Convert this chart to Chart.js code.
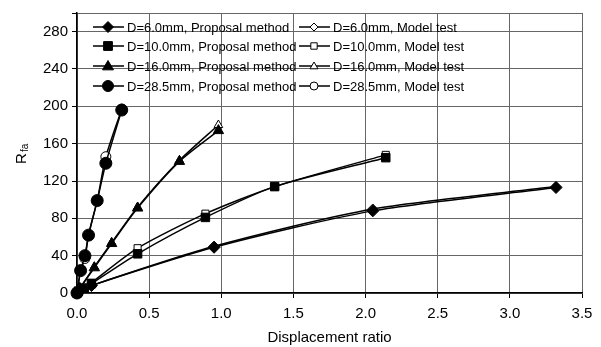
<!DOCTYPE html>
<html>
<head>
<meta charset="utf-8">
<script src="https://cdn.jsdelivr.net/npm/chart.js@4"></script>
<style>
  html, body { margin: 0; padding: 0; background: #fff; }
  #wrap { width: 601px; height: 347px; }
</style>
</head>
<body>
<div id="wrap"><canvas id="chart"></canvas></div>
<script>
"use strict";

// displacement ratio / R fa
const x6 = [0, 0.02, 0.1, 0.95, 2.05, 3.32];
const prop6 = [0, 2, 8, 49, 88, 113];
const test6 = [0, 2, 8, 50, 90, 114];

const x10 = [0, 0.01, 0.05, 0.1, 0.42, 0.89, 1.37, 2.14];
const prop10 = [0, 2, 5, 10, 42, 81, 114, 145];
const test10 = [0, 2, 6, 11, 48, 85, 114, 148];

const x16 = [0, 0.02, 0.12, 0.24, 0.42, 0.71, 0.98];
const prop16 = [0, 5, 27, 53, 91, 141, 174];
const test16 = [0, 5, 28, 54, 92, 142, 180];

const x28 = [0, 0.025, 0.055, 0.08, 0.14, 0.2, 0.31];
const prop28 = [0, 24, 40, 62, 99, 139, 196];
const test28 = [0, 24, 37, 62, 99, 146, 197];

const labels = [
    "D=6.0mm, Proposal method", "D=6.0mm, Model test",
    "D=10.0mm, Proposal method", "D=10.0mm, Model test",
    "D=16.0mm, Proposal method", "D=16.0mm, Model test",
    "D=28.5mm, Proposal method", "D=28.5mm, Model test"
];
const markers = ["rectRot", "rectRot", "rect", "rect", "triangle", "triangle", "circle", "circle"];
const markerSize = [6, 5, 6, 5, 6, 5, 6, 5];

const xsList = [x6, x6, x10, x10, x16, x16, x28, x28];
const ysList = [prop6, test6, prop10, test10, prop16, test16, prop28, test28];

const datasets = ysList.map((ys, i) => {
    const isTest = i % 2 === 1;
    return {
        label: labels[i],
        data: ys.map((y, k) => ({ x: xsList[i][k], y: y })),
        borderColor: "#000",
        borderWidth: 1.5,
        backgroundColor: isTest ? "#fff" : "#000",
        pointStyle: markers[i],
        pointRadius: markerSize[i],
        pointBorderColor: "#000",
        pointBorderWidth: 1,
        pointBackgroundColor: isTest ? "#fff" : "#000",
        tension: 0.25,
        showLine: true,
        clip: 8,
        order: isTest ? 1 : 0
    };
});

const FONT = "'Liberation Sans', Arial, sans-serif";

// legend drawn inside the plot, two columns
const innerLegend = {
    id: "innerLegend",
    afterDraw(chart) {
        const ctx = chart.ctx;
        const colX = [93, 299];
        const rowY = [27, 46, 66, 86];
        ctx.save();
        ctx.font = "13px " + FONT;
        ctx.textBaseline = "middle";
        labels.forEach((txt, i) => {
            const x = colX[i % 2];
            const y = rowY[Math.floor(i / 2)];
            ctx.strokeStyle = "#000";
            ctx.lineWidth = 1.5;
            ctx.beginPath();
            ctx.moveTo(x, y);
            ctx.lineTo(x + 31, y);
            ctx.stroke();
            ctx.fillStyle = i % 2 ? "#fff" : "#000";
            ctx.lineWidth = 1;
            const cx = x + 15, r = i % 2 ? 4 : 5.5;
            ctx.beginPath();
            if (markers[i] === "rectRot") {
                ctx.moveTo(cx, y - r); ctx.lineTo(cx + r, y); ctx.lineTo(cx, y + r); ctx.lineTo(cx - r, y); ctx.closePath();
            } else if (markers[i] === "rect") {
                ctx.rect(cx - r * 0.8, y - r * 0.8, r * 1.6, r * 1.6);
            } else if (markers[i] === "triangle") {
                ctx.moveTo(cx, y - r); ctx.lineTo(cx + r, y + r * 0.7); ctx.lineTo(cx - r, y + r * 0.7); ctx.closePath();
            } else {
                ctx.arc(cx, y, r, 0, Math.PI * 2);
            }
            ctx.fill();
            ctx.stroke();
            ctx.fillStyle = "#000";
            ctx.fillText(txt, x + 34, y + 1);
        });

        // y axis title with subscript
        ctx.translate(22, chart.chartArea.top + (chart.chartArea.bottom - chart.chartArea.top) / 2);
        ctx.rotate(-Math.PI / 2);
        ctx.textAlign = "left";
        ctx.font = "15px " + FONT;
        ctx.fillText("R", -11, 0);
        ctx.font = "10px " + FONT;
        ctx.fillText("fa", 1, 3);
        ctx.restore();
    }
};

new Chart(document.getElementById("chart"), {
    type: "scatter",
    data: { datasets: datasets },
    plugins: [innerLegend],
    options: {
        responsive: true,
        maintainAspectRatio: false,
        animation: false,
        layout: { padding: { top: 9, right: 19, left: 0, bottom: 0 } },
        plugins: {
            legend: { display: false },
            tooltip: { enabled: false }
        },
        scales: {
            x: {
                type: "linear",
                min: 0,
                max: 3.5,
                afterFit: (s) => { s.height = 54; },
                ticks: {
                    stepSize: 0.5,
                    color: "#000",
                    font: { family: FONT, size: 15 },
                    callback: (v) => v.toFixed(1),
                    padding: 7
                },
                grid: { color: "#666", lineWidth: 1, tickLength: 5, tickColor: "#000" },
                border: { color: "#000", width: 1.5 },
                title: {
                    display: true,
                    text: "Displacement ratio",
                    color: "#000",
                    font: { family: FONT, size: 15 },
                    padding: { top: 9, bottom: 0 }
                }
            },
            y: {
                min: 0,
                max: 300,
                afterFit: (s) => { s.width = 77; },
                ticks: {
                    stepSize: 40,
                    color: "#000",
                    font: { family: FONT, size: 15 },
                    callback: (v) => (v > 280 ? "" : v),
                    padding: 4
                },
                grid: { color: "#666", lineWidth: 1, tickLength: 5, tickColor: "#000" },
                border: { color: "#000", width: 1.5 }
            }
        }
    }
});
</script>
</body>
</html>
